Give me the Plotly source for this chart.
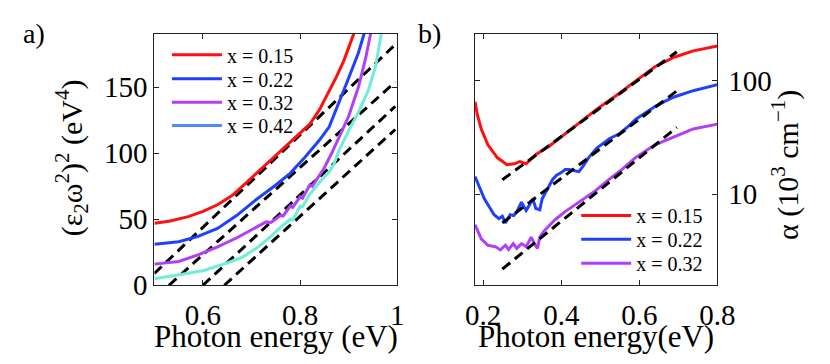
import plotly.graph_objects as go

# panel a) (eps2*w^2)^2 vs photon energy
a_red_x = [0.50, 0.53, 0.57, 0.60, 0.63, 0.66, 0.69, 0.72, 0.75, 0.78, 0.80, 0.82, 0.84, 0.86, 0.875, 0.89, 0.90, 0.912]
a_red_y = [47, 48.5, 52, 56, 61, 68, 78, 88, 98, 108, 115, 122, 133, 147, 158, 170, 180, 192]
a_blue_x = [0.50, 0.55, 0.59, 0.63, 0.67, 0.71, 0.75, 0.78, 0.81, 0.84, 0.86, 0.88, 0.90, 0.92, 0.933]
a_blue_y = [31, 33, 37, 43, 53, 65, 76, 85, 97, 110, 120, 138, 157, 176, 192]
a_purple_x = [0.50, 0.55, 0.59, 0.63, 0.67, 0.70, 0.72, 0.73, 0.74, 0.76, 0.765, 0.78, 0.785, 0.80, 0.805,
              0.82, 0.825, 0.84, 0.85, 0.865, 0.88, 0.90, 0.92, 0.935, 0.946]
a_purple_y = [16, 18, 23, 29, 36, 42, 46, 48, 47.5, 53, 52.5, 60, 59, 67, 66,
              76, 75, 84, 89, 100, 112, 128, 150, 172, 192]
a_cyan_x = [0.50, 0.55, 0.60, 0.65, 0.68, 0.71, 0.74, 0.76, 0.78, 0.785, 0.80, 0.805, 0.82, 0.84, 0.86,
            0.87, 0.88, 0.90, 0.92, 0.94, 0.955, 0.968]
a_cyan_y = [5, 8, 11, 17, 21, 28, 37, 44, 50, 49.5, 60, 59.5, 69, 78, 86,
            92, 102, 117, 131, 147, 165, 192]
a_fits = [([0.5, 0.992], [9, 181]), ([0.53, 0.996], [0, 154]),
          ([0.60, 0.996], [0, 135.5]), ([0.644, 0.996], [0, 118])]

# panel b) absorption coefficient (log)
b_red_x = [0.179, 0.185, 0.195, 0.212, 0.236, 0.261, 0.28, 0.294, 0.31, 0.335, 0.368, 0.401, 0.442,
           0.491, 0.541, 0.590, 0.640, 0.689, 0.738, 0.80]
b_red_y = [65, 50, 37.5, 27.2, 21, 18.2, 18.5, 19.4, 18.5, 22.4, 26.3, 31.9, 41.3,
           56, 73.8, 98.7, 132, 160, 182, 201]
b_blue_x = [0.179, 0.19, 0.203, 0.215, 0.228, 0.240, 0.249, 0.257, 0.269, 0.278, 0.286, 0.298, 0.31,
            0.318, 0.327, 0.335, 0.345, 0.351, 0.36, 0.368, 0.378, 0.388, 0.40, 0.41, 0.42, 0.434,
            0.445, 0.455, 0.47, 0.491, 0.51, 0.524, 0.549, 0.57, 0.590, 0.615, 0.640, 0.665, 0.689,
            0.738, 0.80]
b_blue_y = [14.3, 11.5, 9.1, 7.8, 6.6, 6.1, 6.4, 5.6, 6.6, 6.5, 7.0, 8.5, 7.2,
            8.0, 9.1, 7.5, 7.3, 9.1, 10.5, 11.7, 13.5, 14.7, 15.5, 16.5, 16.5, 16.2,
            15.8, 17.5, 21, 25.5, 28.5, 30.9, 34, 39, 45.5, 52, 58.9, 65.5, 71.6,
            81.3, 92]
b_purple_x = [0.179, 0.195, 0.212, 0.232, 0.244, 0.257, 0.265, 0.277, 0.286, 0.298, 0.31, 0.323,
              0.331, 0.339, 0.345, 0.356, 0.372, 0.384, 0.409, 0.45, 0.487, 0.52, 0.557, 0.590,
              0.640, 0.689, 0.738, 0.80]
b_purple_y = [5.4, 4.06, 3.56, 3.45, 3.24, 3.56, 3.27, 3.68, 3.34, 3.68, 3.45, 4.19,
              3.68, 3.34, 4.19, 4.76, 5.42, 5.97, 7.0, 8.8, 10.7, 13.3, 16.7, 21,
              27.2, 31.9, 37.5, 41.3]
b_fits = [([0.249, 0.696], [13.4, 178.6]), ([0.249, 0.696], [5.6, 81]),
          ([0.249, 0.696], [2.2, 38.7])]

labels = ["x = 0.15", "x = 0.22", "x = 0.32", "x = 0.42"]
RED, BLUE, PURPLE, CYAN, LBLUE = "#ff1010", "#2040ff", "#b040f8", "#70ecd8", "#4d8cff"
FONT = "Liberation Serif, Times New Roman, Times, serif"
W, H = 830, 364

fig = go.Figure()

for fx, fy in a_fits:
    fig.add_trace(go.Scatter(x=fx, y=fy, mode="lines", showlegend=False,
                             line=dict(color="black", width=3, dash="10px,6px"),
                             xaxis="x", yaxis="y"))
for xs, ys, c, lab, lg in [(a_red_x, a_red_y, RED, labels[0], "legend"),
                           (a_blue_x, a_blue_y, BLUE, labels[1], "legend2"),
                           (a_purple_x, a_purple_y, PURPLE, labels[2], "legend3")]:
    fig.add_trace(go.Scatter(x=xs, y=ys, mode="lines", name=lab, legend=lg,
                             line=dict(color=c, width=3), xaxis="x", yaxis="y"))
fig.add_trace(go.Scatter(x=a_cyan_x, y=a_cyan_y, mode="lines", showlegend=False,
                         line=dict(color=CYAN, width=3), xaxis="x", yaxis="y"))
# legend entry for x = 0.42 is drawn in a lighter blue in the original
fig.add_trace(go.Scatter(x=[None], y=[None], mode="lines", name=labels[3], legend="legend4",
                         line=dict(color=LBLUE, width=3), xaxis="x", yaxis="y"))

for xs, ys, c, lab, lg in [(b_red_x, b_red_y, RED, labels[0], "legend5"),
                           (b_blue_x, b_blue_y, BLUE, labels[1], "legend6"),
                           (b_purple_x, b_purple_y, PURPLE, labels[2], "legend7")]:
    fig.add_trace(go.Scatter(x=xs, y=ys, mode="lines", name=lab, legend=lg,
                             line=dict(color=c, width=3), xaxis="x2", yaxis="y2"))
for fx, fy in b_fits:
    fig.add_trace(go.Scatter(x=fx, y=fy, mode="lines", showlegend=False,
                             line=dict(color="black", width=3, dash="10px,6px"),
                             xaxis="x2", yaxis="y2"))

ax = dict(showline=True, linecolor="#222", linewidth=1, mirror="ticks", ticks="inside",
          ticklen=5, tickcolor="#222", showgrid=False, zeroline=False,
          tickfont=dict(family=FONT, size=29, color="black"))

fig.update_layout(
    width=W, height=H,
    margin=dict(l=0, r=0, t=0, b=0),
    paper_bgcolor="white", plot_bgcolor="white",
    font=dict(family=FONT, color="black"),
    xaxis=dict(ax, domain=[142 / W, 393 / W], range=[0.5, 1.0], ticklabelstandoff=4,
               tickvals=[0.6, 0.8, 1.0], ticktext=["0.6", "0.8", "1"], anchor="y"),
    yaxis=dict(ax, domain=[1 - 290 / H, 1 - 27 / H], range=[0, 190.5],
               tickvals=[0, 50, 100, 150], anchor="x"),
    xaxis2=dict(ax, domain=[473 / W, 724 / W], range=[0.178, 0.8], ticklabelstandoff=4,
                tickvals=[0.2, 0.4, 0.6, 0.8], ticktext=["0.2", "0.4", "0.6", "0.8"], anchor="y2"),
    yaxis2=dict(ax, domain=[1 - 290 / H, 1 - 27 / H], type="log", range=[0.2, 2.41],
                tickvals=[10, 100], ticktext=["10", "100"], side="right", anchor="x2",
                ticklabelstandoff=4),
    showlegend=True,
)

# one legend per entry so the row spacing can follow the original
rows = {"legend": (155, 49), "legend2": (155, 74), "legend3": (155, 98.5), "legend4": (155, 123),
        "legend5": (578, 217), "legend6": (578, 242), "legend7": (578, 267)}
for key, (lx, ly) in rows.items():
    fig.update_layout({key: dict(x=lx / W, y=1 - ly / H, xanchor="left", yanchor="middle",
                                 bgcolor="rgba(0,0,0,0)", itemwidth=50,
                                 font=dict(family=FONT, size=20, color="black"))})

ann = [
    dict(text="a)", x=4, y=27, size=28),
    dict(text="b)", x=412, y=27, size=28),
    dict(text="Photon energy (eV)", x=268, y=344, size=31, center=True),
    dict(text="Photon energy(eV)", x=598, y=344, size=31, center=True),
]
for a in ann:
    fig.add_annotation(text=a["text"], xref="paper", yref="paper",
                       x=a["x"] / W, y=1 - a["y"] / H,
                       xanchor="center" if a.get("center") else "left", yanchor="middle",
                       showarrow=False, font=dict(family=FONT, size=a["size"], color="black"))

fig.add_annotation(text="(ε<sub>2</sub>ω<sup>2</sup>)<sup>2</sup> (eV<sup>4</sup>)", textangle=-90,
                   xref="paper", yref="paper", x=56 / W, y=1 - 157 / H,
                   xanchor="center", yanchor="middle", showarrow=False,
                   font=dict(family=FONT, size=30, color="black"))
fig.add_annotation(text="α (10<sup>3</sup> cm<sup>−1</sup>)", textangle=-90,
                   xref="paper", yref="paper", x=795 / W, y=1 - 164 / H,
                   xanchor="center", yanchor="middle", showarrow=False,
                   font=dict(family=FONT, size=30, color="black"))

fig.write_html("out.html")
